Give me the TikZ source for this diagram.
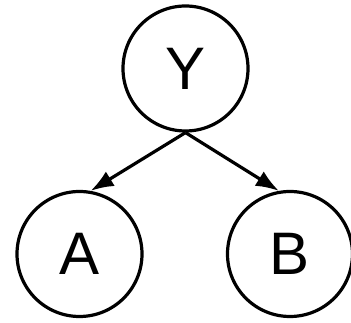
\documentclass[tikz,border=0pt]{standalone}
\usepackage{fontspec}
\setmainfont{Liberation Sans}
\usetikzlibrary{arrows.meta}

\begin{document}
\begin{tikzpicture}[x=1pt,y=1pt,
    var/.style={draw,circle,line width=3.2pt,minimum size=125pt,inner sep=0pt,
        font=\fontsize{60}{60}\selectfont},
    edge/.style={line width=3.2pt,-{Latex[length=23pt,width=17pt]}}]
    \useasboundingbox (0,0) rectangle (351,323);
    \node[var] (Y) at (185.5,254.5) {Y};
    \node[var] (A) at (79.5,69) {A};
    \node[var] (B) at (290,69) {B};
    \draw[edge] (Y.south) -- (A.80);
    \draw[edge] (Y.south) -- (B.100);
\end{tikzpicture}
\end{document}
